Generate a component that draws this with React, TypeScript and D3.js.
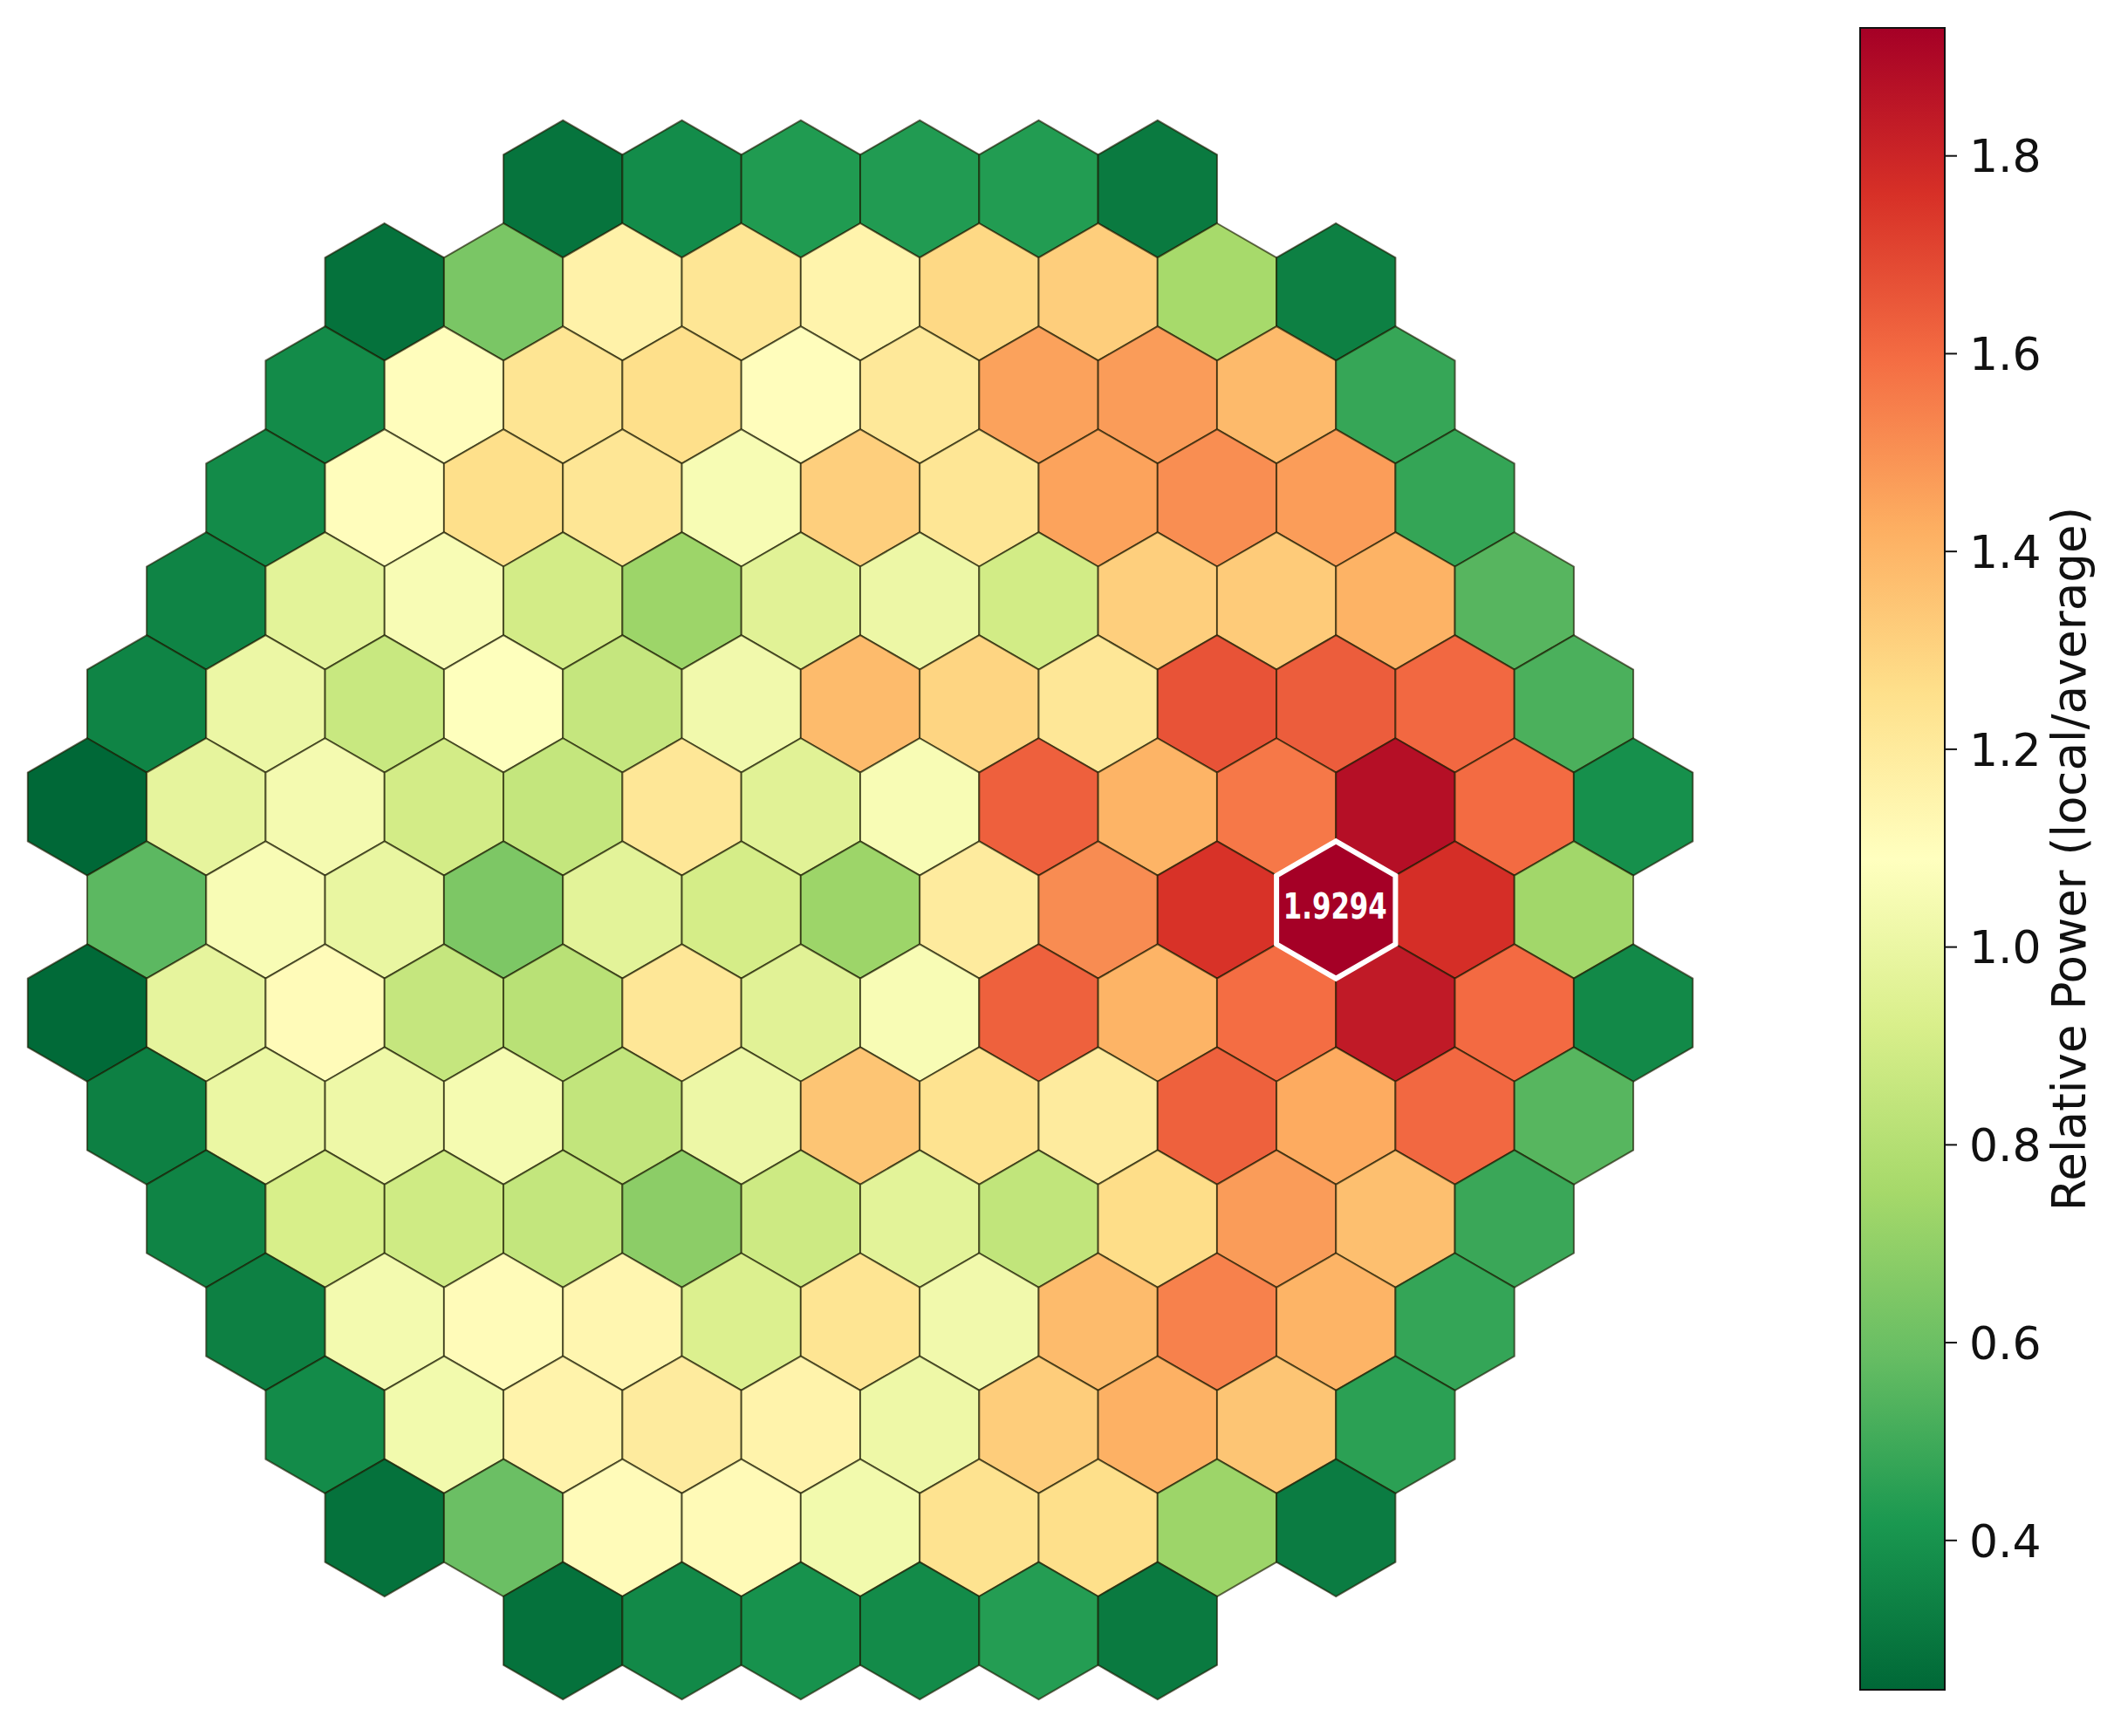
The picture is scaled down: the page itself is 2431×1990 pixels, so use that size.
import * as d3 from "d3";

// ── Relative power per assembly, one array per hex row, top → bottom ──
const rowM7 = [0.29, 0.375, 0.43, 0.432, 0.435, 0.312];
const rowM6 = [0.283, 0.637, 1.16, 1.225, 1.15, 1.28, 1.318, 0.758, 0.333];
const rowM5 = [0.372, 1.1, 1.23, 1.257, 1.1, 1.213, 1.456, 1.472, 1.385, 0.479];
const rowM4 = [0.372, 1.1, 1.257, 1.225, 1.054, 1.314, 1.225, 1.453, 1.507, 1.469, 0.474];
const rowM3 = [0.346, 0.965, 1.058, 0.901, 0.729, 0.956, 1.01, 0.898, 1.314, 1.328, 1.408, 0.551];
const rowM2 = [0.346, 1.006, 0.866, 1.084, 0.856, 1.027, 1.381, 1.294, 1.22, 1.665, 1.637, 1.607, 0.525];
const rowM1 = [0.249, 0.978, 1.04, 0.901, 0.852, 1.22, 0.956, 1.058, 1.628, 1.405, 1.564, 1.877, 1.598, 0.39];
const row0 = [0.563, 1.058, 0.992, 0.645, 0.965, 0.908, 0.729, 1.197, 1.512, 1.757, 1.9294, 1.768, 0.743];
const rowP1 = [0.255, 0.978, 1.11, 0.856, 0.815, 1.22, 0.956, 1.058, 1.627, 1.405, 1.593, 1.838, 1.601, 0.365];
const rowP2 = [0.333, 1.0, 1.013, 1.045, 0.845, 1.01, 1.348, 1.24, 1.197, 1.627, 1.433, 1.607, 0.553];
const rowP3 = [0.346, 0.918, 0.887, 0.849, 0.684, 0.88, 0.965, 0.842, 1.264, 1.472, 1.368, 0.487];
const rowP4 = [0.333, 1.036, 1.11, 1.138, 0.934, 1.23, 1.027, 1.381, 1.541, 1.405, 0.475];
const rowP5 = [0.372, 1.032, 1.154, 1.197, 1.154, 1.013, 1.321, 1.415, 1.348, 0.455];
const rowP6 = [0.283, 0.598, 1.11, 1.116, 1.032, 1.24, 1.257, 0.729, 0.32];
const rowP7 = [0.283, 0.365, 0.397, 0.372, 0.44, 0.312];

const rows = [rowM7, rowM6, rowM5, rowM4, rowM3, rowM2, rowM1, row0,
  rowP1, rowP2, rowP3, rowP4, rowP5, rowP6, rowP7];

const cbTicks = [0.4, 0.6, 0.8, 1.0, 1.2, 1.4, 1.6, 1.8];
const cbLabel = "Relative Power (local/average)";

// RdYlGn, reversed (green = low, red = high)
const RDYLGN_R = ["#a50026", "#d73027", "#f46d43", "#fdae61", "#fee08b", "#ffffbf",
  "#d9ef8b", "#a6d96a", "#66bd63", "#1a9850", "#006837"].slice().reverse();

// ── Layout ────────────────────────────────────────────────
const W = 2431;
const H = 1990;
const CX = 986;
const CY = 1043;
const R = 78.7;
const HW = Math.sqrt(3) * R;
const RING = 7;
const CB = { x0: 2132, x1: 2229, y0: 32, y1: 1937 };
const FONT = "DejaVu Sans";

// ── Cells: hexagon of radius 7 without its six corners ────
const isCorner = (q: number, r: number) =>
  (q === 0 || r === 0 || q + r === 0) &&
  Math.max(Math.abs(q), Math.abs(r), Math.abs(q + r)) === RING;

const cells = rows.flatMap((vals, i) => {
  const r = i - RING;
  const qs = d3.range(Math.max(-RING, -RING - r), Math.min(RING, RING - r) + 1)
    .filter(q => !isCorner(q, r));
  return qs.map((q, j) => ({ q, r, v: vals[j] }));
});

const vmin = d3.min(cells, c => c.v) as number;
const vmax = d3.max(cells, c => c.v) as number;
const hot = cells.find(c => c.v === vmax)!;

const x = d3.scaleLinear().domain([0, 1]).range([CX, CX + HW]);
const y = d3.scaleLinear().domain([0, 1]).range([CY, CY + 1.5 * R]);
const color = d3.scaleLinear<string>()
  .domain(RDYLGN_R.map((_, i) => vmin + (vmax - vmin) * i / (RDYLGN_R.length - 1)))
  .range(RDYLGN_R)
  .interpolate(d3.interpolateRgb);
const yCb = d3.scaleLinear().domain([vmin, vmax]).range([CB.y1, CB.y0]);

const hexPts = d3.range(6).map(k => {
  const a = (Math.PI / 180) * (-90 + 60 * k);
  return [R * Math.cos(a), R * Math.sin(a)] as [number, number];
});
const hexPath = d3.line()(hexPts) + "Z";

const cx = (c: { q: number; r: number }) => x(c.q + c.r / 2);
const cy = (c: { q: number; r: number }) => y(c.r);

export default function App() {
  return (
    <svg width={W} height={H} viewBox={`0 0 ${W} ${H}`}
      style={{ position: "absolute", left: 0, top: 0, background: "#fff" }}>
      <defs>
        <linearGradient id="cbGrad" x1="0" y1="1" x2="0" y2="0">
          {RDYLGN_R.map((c, i) => (
            <stop key={i} offset={i / (RDYLGN_R.length - 1)} stopColor={c} />
          ))}
        </linearGradient>
      </defs>

      {/* hex map */}
      {cells.map((c, i) => (
        <path key={i} d={hexPath}
          transform={`translate(${cx(c)},${cy(c)})`}
          fill={color(c.v)}
          stroke="#1a1a00" strokeOpacity={0.65} strokeWidth={2} />
      ))}

      {/* hottest assembly */}
      <g transform={`translate(${cx(hot)},${cy(hot)})`}>
        <path d={hexPath} fill={color(hot.v)} stroke="#fff" strokeWidth={6}
          strokeLinejoin="miter" />
        <text x={-1} y={-5} dy="0.36em" textAnchor="middle"
          fontFamily={FONT} fontWeight="bold" fontSize={41}
          textLength={119} lengthAdjust="spacingAndGlyphs" fill="#fff">
          {hot.v.toFixed(4)}
        </text>
      </g>

      {/* colorbar */}
      <rect x={CB.x0} y={CB.y0} width={CB.x1 - CB.x0} height={CB.y1 - CB.y0}
        fill="url(#cbGrad)" stroke="#111" strokeWidth={2} />
      {cbTicks.map(t => (
        <g key={t} transform={`translate(${CB.x1},${yCb(t)})`}>
          <line x1={0} x2={14} stroke="#111" strokeWidth={2} />
          <text x={28} y={0} dy="0.36em" fontFamily={FONT} fontSize={52} fill="#111">
            {t.toFixed(1)}
          </text>
        </g>
      ))}
      <text transform={`translate(2390,${(CB.y0 + CB.y1) / 2}) rotate(-90)`}
        textAnchor="middle" fontFamily={FONT} fontSize={53} fill="#111">
        {cbLabel}
      </text>
    </svg>
  );
}
